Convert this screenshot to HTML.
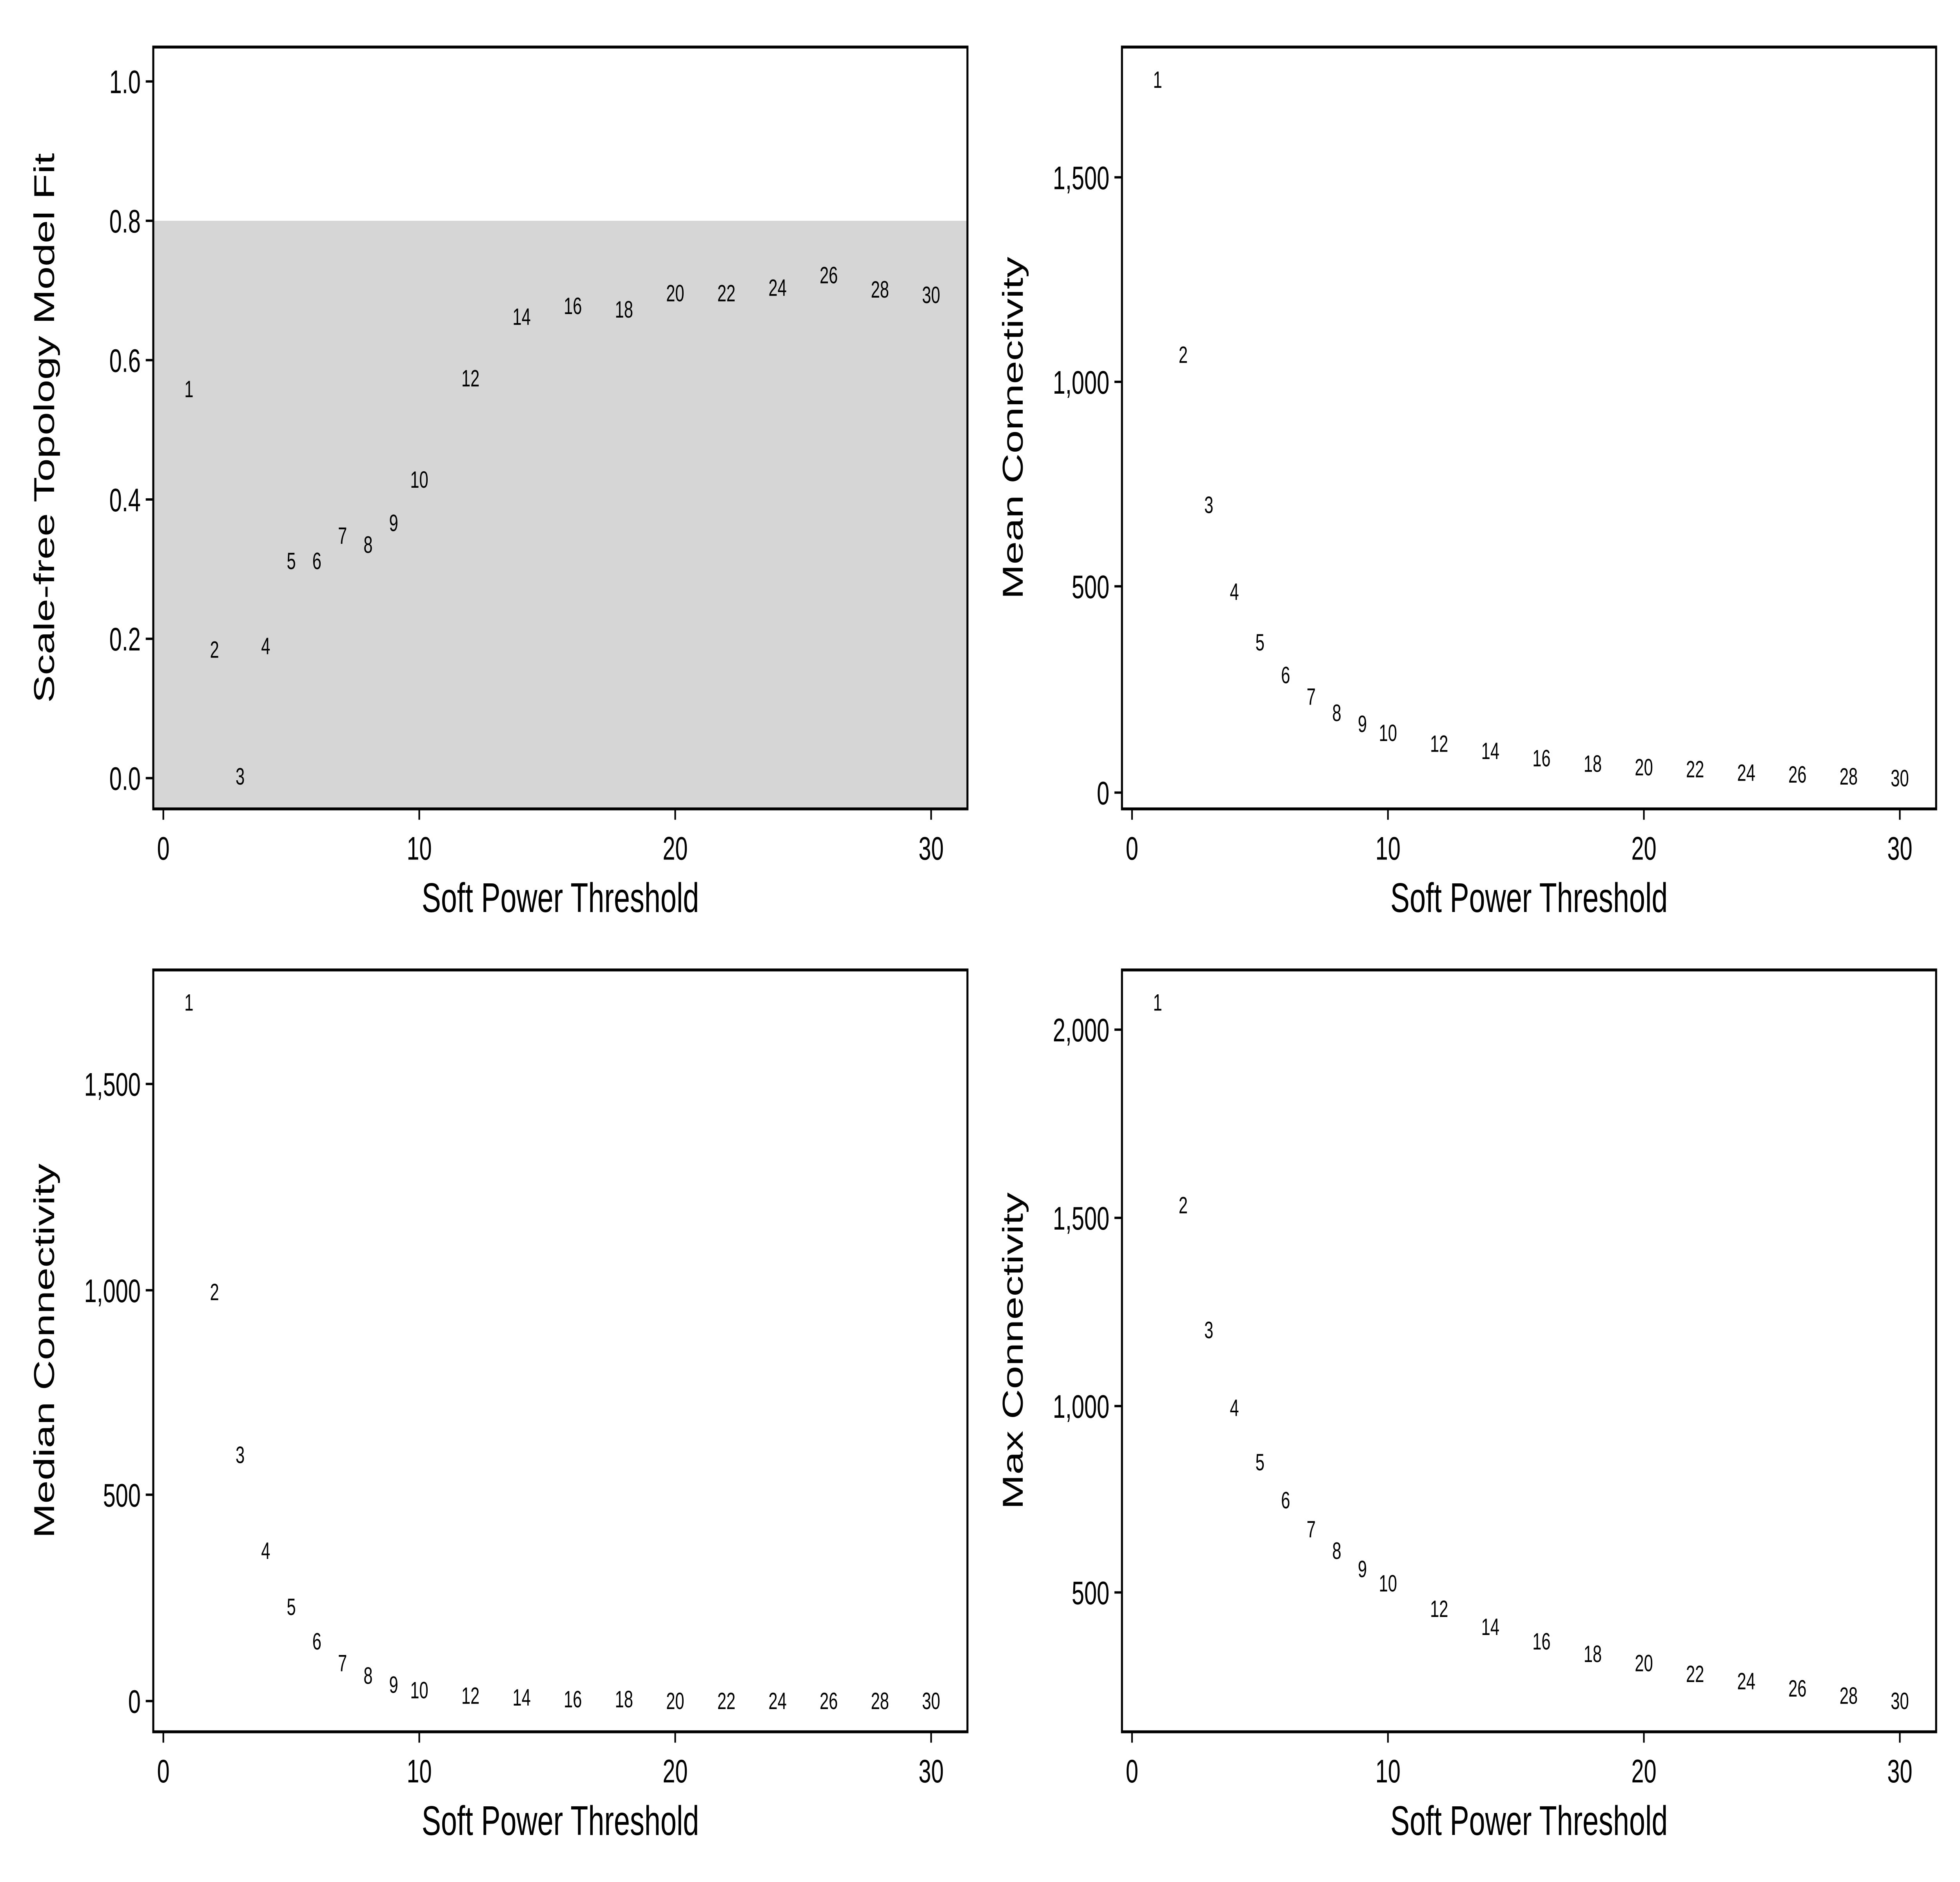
<!DOCTYPE html>
<html><head><meta charset="utf-8"><style>
html,body{margin:0;padding:0;background:#fff;width:100%;height:100%;overflow:hidden;}
svg{display:block;position:absolute;left:0;top:0;width:100vw;height:100vh;}
text{font-family:"Liberation Sans",sans-serif;fill:#000;}
</style></head><body>
<svg id="s" viewBox="0 0 1560 1040" preserveAspectRatio="none" xmlns="http://www.w3.org/2000/svg"></svg>
<script>
const s=document.getElementById('s');
let h='<rect x="0" y="0" width="1560" height="1040" fill="#fff"/>';
const P=[1,2,3,4,5,6,7,8,9,10,12,14,16,18,20,22,24,26,28,30];
const panels=[
 {x0:122,x1:770,y0:26,y1:447,ox:130,title:'Scale-free Topology Model Fit',tx:35,
  yt:[[45,'1.0'],[122,'0.8'],[199,'0.6'],[276,'0.4'],[353,'0.2'],[430,'0.0']],
  ly:[215,359,429,357,310,310,296,301,289,265,209,175,169,171,162,162,159,152,160,163],gray:true},
 {x0:893,x1:1541,y0:26,y1:447,ox:901,title:'Mean Connectivity',tx:806,
  yt:[[98,'1,500'],[211,'1,000'],[324,'500'],[438,'0']],
  ly:[44,196,279,327,355,373,385,394,400,405,411,415,419,422,424,425,427,428,429,430]},
 {x0:122,x1:770,y0:536,y1:957,ox:130,title:'Median Connectivity',tx:35,
  yt:[[599,'1,500'],[713,'1,000'],[826,'500'],[940,'0']],
  ly:[554,714,804,857,888,907,919,926,931,934,937,938,939,939,940,940,940,940,940,940]},
 {x0:893,x1:1541,y0:536,y1:957,ox:901,title:'Max Connectivity',tx:806,
  yt:[[569,'2,000'],[673,'1,500'],[777,'1,000'],[880,'500']],
  ly:[554,666,735,778,808,829,845,857,867,875,889,899,907,914,919,925,929,933,937,940]}
];
const k=20.37;
for(const p of panels){
 if(p.gray) h+=`<rect x="${p.x0}" y="122" width="${p.x1-p.x0}" height="${p.y1-122}" fill="#d6d6d6"/>`;
 h+=`<rect x="${p.x0}" y="${p.y0}" width="${p.x1-p.x0}" height="${p.y1-p.y0}" fill="none" stroke="#000" stroke-width="1.6"/>`;
 for(const [y,t] of p.yt){
  h+=`<line x1="${p.x0-6}" x2="${p.x0}" y1="${y}" y2="${y}" stroke="#000" stroke-width="1.3"/>`;
  h+=`<text x="${p.x0-10}" y="${y+6.5}" font-size="18" text-anchor="end">${t}</text>`;
 }
 for(const v of [0,10,20,30]){
  const x=p.ox+v*k;
  h+=`<line x1="${x}" x2="${x}" y1="${p.y1}" y2="${p.y1+6}" stroke="#000" stroke-width="1.3"/>`;
  h+=`<text x="${x}" y="${p.y1+28}" font-size="18" text-anchor="middle">${v}</text>`;
 }
 h+=`<text x="${(p.x0+p.x1)/2}" y="${p.y1+57}" font-size="23" text-anchor="middle">Soft Power Threshold</text>`;
 const cy=(p.y0+p.y1)/2;
 h+=`<text transform="translate(${p.tx+8},${cy}) rotate(-90)" font-size="23" text-anchor="middle">${p.title}</text>`;
 P.forEach((v,i)=>{
  h+=`<text x="${p.ox+v*k}" y="${p.ly[i]+4.5}" font-size="13" text-anchor="middle">${v}</text>`;
 });
}
s.innerHTML=h;
</script>
</body></html>
